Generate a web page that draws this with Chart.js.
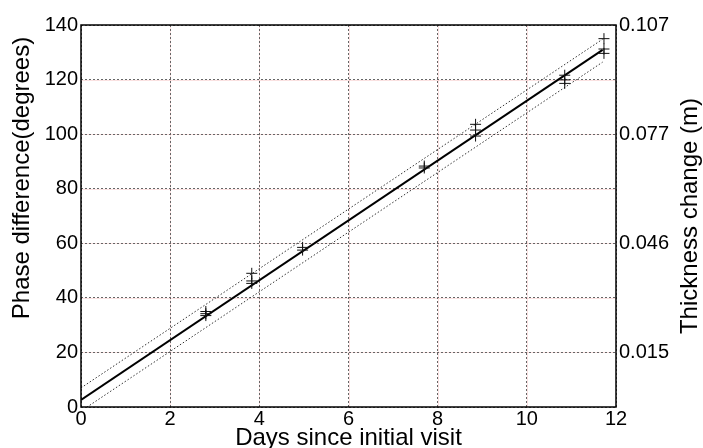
<!DOCTYPE html>
<html>
<head>
<meta charset="utf-8">
<script src="https://cdn.jsdelivr.net/npm/chart.js@4"></script>
<style>
  html, body { margin: 0; padding: 0; background: #fff; }
  #wrap { width: 703px; height: 448px; }
</style>
</head>
<body>
<div id="wrap"><canvas id="c" width="703" height="448"></canvas></div>
<script>
// Measured phase differences (several repeats per visit)
const days  = [2.8, 2.8, 2.8, 3.83, 3.83, 3.83, 4.97, 4.97, 7.7, 7.7, 8.85, 8.85, 8.85, 10.85, 10.85, 10.85, 11.73, 11.73, 11.73];
const phase = [33.5, 34.2, 35.0, 45.3, 46.2, 49.0, 57.5, 58.5, 87.6, 88.3, 99.3, 101.5, 103.6, 118.6, 119.9, 121.6, 129.6, 131.2, 135.0];

// Linear fit and its bounds
const fitDays  = [0, 11.7];
const fitPhase = [2.6, 130.9];
const upperPhase = [7.0, 134.8];
const lowerPhase = [-1.5, 126.4];

// Right-hand axis: phase -> thickness labels
const rightTicks  = [20, 60, 100, 140];
const rightLabels = ['0.015', '0.046', '0.077', '0.107'];
const leftTitle   = 'Phase difference(degrees)';
const rightTitle  = 'Thickness change (m)';

const FONT = 'Liberation Sans, Arial, sans-serif';

const pts = (xs, ys) => xs.map((x, i) => ({ x, y: ys[i] }));

function vText(ctx, text, x, y) {
  ctx.save();
  ctx.translate(x, y);
  ctx.rotate(-Math.PI / 2);
  ctx.fillStyle = '#000';
  ctx.font = '24px ' + FONT;
  ctx.textAlign = 'center';
  ctx.textBaseline = 'middle';
  ctx.fillText(text, 0, 0);
  ctx.restore();
}

// faint pink line under each dotted grid line, box frame, side titles
const frame = {
  id: 'frame',
  beforeDraw(chart) {
    const { ctx, chartArea: a, scales } = chart;
    ctx.save();
    ctx.strokeStyle = 'rgba(240,170,170,0.35)';
    ctx.lineWidth = 1;
    scales.x.ticks.forEach(t => {
      if (t.value <= 0 || t.value >= 12) return;
      const px = Math.round(scales.x.getPixelForValue(t.value)) + 0.5;
      ctx.beginPath(); ctx.moveTo(px, a.top); ctx.lineTo(px, a.bottom); ctx.stroke();
    });
    scales.y.ticks.forEach(t => {
      if (t.value <= 0 || t.value >= 140) return;
      const py = Math.round(scales.y.getPixelForValue(t.value)) + 0.5;
      ctx.beginPath(); ctx.moveTo(a.left, py); ctx.lineTo(a.right, py); ctx.stroke();
    });
    ctx.restore();
  },
  afterDraw(chart) {
    const { ctx, chartArea: a } = chart;
    ctx.save();
    ctx.strokeStyle = '#000';
    ctx.lineWidth = 1.5;
    ctx.strokeRect(a.left, a.top, a.right - a.left, a.bottom - a.top);
    ctx.restore();
    vText(ctx, leftTitle, 22, 178);
    vText(ctx, rightTitle, 690, (a.top + a.bottom) / 2);
  },
};

const ctx = document.getElementById('c').getContext('2d');
new Chart(ctx, {
  type: 'scatter',
  data: {
    datasets: [
      {
        data: pts(days, phase),
        pointStyle: 'cross',
        pointRadius: 5.5,
        borderColor: '#111',
        borderWidth: 1,
        showLine: false,
      },
      {
        data: pts(fitDays, fitPhase),
        showLine: true,
        borderColor: '#000',
        borderWidth: 2,
        pointRadius: 0,
      },
      {
        data: pts(fitDays, upperPhase),
        showLine: true,
        borderColor: '#333',
        borderWidth: 1,
        borderDash: [1.5, 2],
        pointRadius: 0,
      },
      {
        data: pts(fitDays, lowerPhase),
        showLine: true,
        borderColor: '#333',
        borderWidth: 1,
        borderDash: [1.5, 2],
        pointRadius: 0,
      },
    ],
  },
  options: {
    responsive: false,
    animation: false,
    layout: { padding: { top: 25, left: 0, right: 0, bottom: 0 } },
    plugins: { legend: { display: false }, tooltip: { enabled: false } },
    scales: {
      x: {
        type: 'linear',
        min: 0, max: 12,
        afterFit: s => { s.height = 41; },
        ticks: { stepSize: 2, color: '#000', font: { family: FONT, size: 20 }, padding: 0, maxRotation: 0 },
        grid: { color: '#666', lineWidth: 1, drawTicks: false },
        border: { display: false, dash: [2, 2] },
        title: {
          display: true, text: 'Days since initial visit', color: '#000',
          font: { family: FONT, size: 24, lineHeight: 0.8 }, padding: { top: 0, bottom: 0 },
        },
      },
      y: {
        type: 'linear',
        position: 'left',
        min: 0, max: 140,
        afterFit: s => { s.width = 81; },
        ticks: { stepSize: 20, color: '#000', font: { family: FONT, size: 20 }, padding: 3 },
        grid: { color: '#666', lineWidth: 1, drawTicks: false },
        border: { display: false, dash: [2, 2] },
        title: { display: false },
      },
      y2: {
        type: 'linear',
        position: 'right',
        min: 0, max: 140,
        afterFit: s => { s.width = 87; },
        afterBuildTicks: s => { s.ticks = rightTicks.map(v => ({ value: v })); },
        ticks: {
          color: '#000', font: { family: FONT, size: 20 }, padding: 3,
          callback: v => rightLabels[rightTicks.indexOf(v)] ?? '',
        },
        grid: { display: false, drawTicks: false },
        border: { display: false },
        title: { display: false },
      },
    },
  },
  plugins: [frame],
});
</script>
</body>
</html>
